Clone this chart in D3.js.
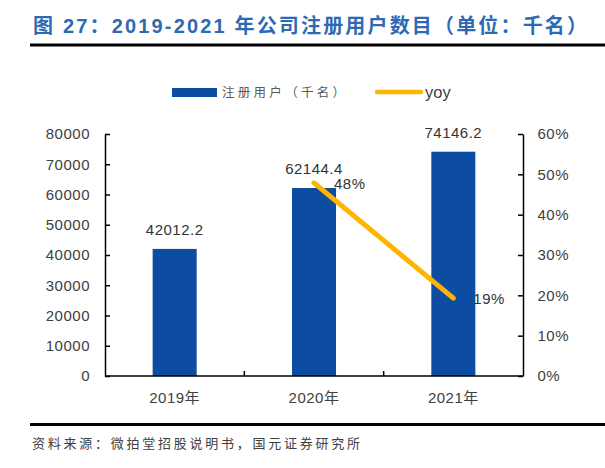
<!DOCTYPE html>
<html>
<head>
<meta charset="utf-8">
<script src="https://cdn.jsdelivr.net/npm/d3@7"></script>
<style>
  html, body { margin: 0; padding: 0; background: #fff; }
  svg { display: block; }
</style>
</head>
<body>
<svg id="chart" width="605" height="468"></svg>
<script>
// ---- data ----
const categories = ["2019年", "2020年", "2021年"];
const users = [42012.2, 62144.4, 74146.2];
const yoyCats = ["2020年", "2021年"];
const yoy = [0.479, 0.193];
const leftTicks = [0, 10000, 20000, 30000, 40000, 50000, 60000, 70000, 80000];
const rightTicks = [0, 0.1, 0.2, 0.3, 0.4, 0.5, 0.6];
const titleText = "图 27：2019-2021 年公司注册用户数目（单位：千名）";
const legendBar = "注册用户（千名）";
const legendLine = "yoy";
const sourceText = "资料来源：微拍堂招股说明书，国元证券研究所";

// ---- layout ----
const svg = d3.select("#chart");
const L = 105, R = 523, T = 134, B = 376;
const BAR = "#0C4DA2", LINE = "#FFB400", TXT = "#404040";
const FONT = "'Liberation Sans', Arial, 'Noto Sans CJK SC', sans-serif";
const CJK = "'Noto Sans CJK SC', sans-serif";

const x = d3.scaleBand().domain(categories).range([L, R]).paddingInner(0.684).paddingOuter(0.342);
const yL = d3.scaleLinear().domain([0, 80000]).range([B, T]);
const yR = d3.scaleLinear().domain([0, 0.6]).range([B, T]);

// title
svg.append("text").attr("x", 33).attr("y", 33.3)
  .attr("font-family", FONT).attr("font-weight", "bold").attr("font-size", 20)
  .attr("fill", "#2E6AB3").attr("textLength", 554).attr("lengthAdjust", "spacing")
  .text(titleText);
svg.append("rect").attr("x", 30).attr("y", 43.5).attr("width", 575).attr("height", 3).attr("fill", "#000");

// legend
svg.append("rect").attr("x", 172).attr("y", 88).attr("width", 45).attr("height", 9).attr("fill", BAR);
svg.append("text").attr("x", 222).attr("y", 92.5).attr("dy", "0.35em")
  .attr("font-family", CJK).attr("font-size", 12.5).attr("fill", "#595959")
  .attr("textLength", 123).attr("lengthAdjust", "spacing")
  .text(legendBar);
svg.append("line").attr("x1", 377).attr("x2", 421).attr("y1", 92).attr("y2", 92)
  .attr("stroke", LINE).attr("stroke-width", 4.5).attr("stroke-linecap", "round");
svg.append("text").attr("x", 425).attr("y", 92).attr("dy", "0.35em")
  .attr("font-family", FONT).attr("font-size", 16.5).attr("fill", TXT)
  .text(legendLine);

// bars
svg.append("g").selectAll("rect").data(categories).join("rect")
  .attr("x", d => x(d)).attr("width", x.bandwidth())
  .attr("y", (d, i) => yL(users[i])).attr("height", (d, i) => B - yL(users[i]))
  .attr("fill", BAR);

// bar labels
svg.append("g").selectAll("text").data(categories).join("text")
  .attr("x", d => x(d) + x.bandwidth() / 2)
  .attr("y", (d, i) => yL(users[i]) - 14)
  .attr("text-anchor", "middle")
  .attr("font-family", FONT).attr("font-size", 15).attr("letter-spacing", 0.5).attr("fill", "#333")
  .text((d, i) => d3.format(".1f")(users[i]));

// left axis
const gl = svg.append("g").attr("transform", `translate(${L},0)`)
  .call(d3.axisLeft(yL).tickValues(leftTicks).tickSize(-5).tickSizeOuter(0).tickPadding(15).tickFormat(d3.format("d")));
// right axis
const gr = svg.append("g").attr("transform", `translate(${R},0)`)
  .call(d3.axisRight(yR).tickValues(rightTicks).tickSize(-5).tickSizeOuter(0).tickPadding(14.5).tickFormat(d3.format(".0%")));
// bottom axis
const gb = svg.append("g").attr("transform", `translate(0,${B})`)
  .call(d3.axisBottom(x).tickSize(0).tickSizeOuter(0).tickPadding(16.4));
gb.select(".domain").remove();
svg.append("line").attr("x1", L).attr("x2", R).attr("y1", B).attr("y2", B)
  .attr("stroke", "#000").attr("stroke-width", 1.5);
svg.append("g").selectAll("line").data(categories.slice(0, -1)).join("line")
  .attr("x1", d => x(d) + x.bandwidth() / 2 + x.step() / 2)
  .attr("x2", d => x(d) + x.bandwidth() / 2 + x.step() / 2)
  .attr("y1", B).attr("y2", B - 5)
  .attr("stroke", "#000").attr("stroke-width", 1.5);

[gl, gr, gb].forEach(g => {
  g.selectAll(".domain").attr("stroke", "#000").attr("stroke-width", 1.5);
  g.selectAll(".tick line").attr("stroke", "#000").attr("stroke-width", 1.5);
  g.selectAll(".tick text").attr("font-family", FONT).attr("font-size", 15)
    .attr("letter-spacing", 0.5).attr("fill", TXT);
});

// yoy line
const line = d3.line().x(d => x(d.c) + x.bandwidth() / 2).y(d => yR(d.v));
const pts = yoyCats.map((c, i) => ({ c, v: yoy[i] }));
svg.append("path").datum(pts).attr("d", line)
  .attr("fill", "none").attr("stroke", LINE).attr("stroke-width", 5).attr("stroke-linecap", "round");
svg.append("g").selectAll("text").data(pts).join("text")
  .attr("x", d => x(d.c) + x.bandwidth() / 2 + 20)
  .attr("y", d => yR(d.v) + 6.3)
  .attr("font-family", FONT).attr("font-size", 15).attr("letter-spacing", 0.5).attr("fill", "#333")
  .text(d => d3.format(".0%")(d.v));

// source
svg.append("rect").attr("x", 30).attr("y", 423).attr("width", 575).attr("height", 3).attr("fill", "#000");
svg.append("text").attr("x", 32).attr("y", 443.5).attr("dy", "0.35em")
  .attr("font-family", CJK).attr("font-size", 13).attr("fill", "#404040")
  .attr("textLength", 328).attr("lengthAdjust", "spacing")
  .text(sourceText);
</script>
</body>
</html>
